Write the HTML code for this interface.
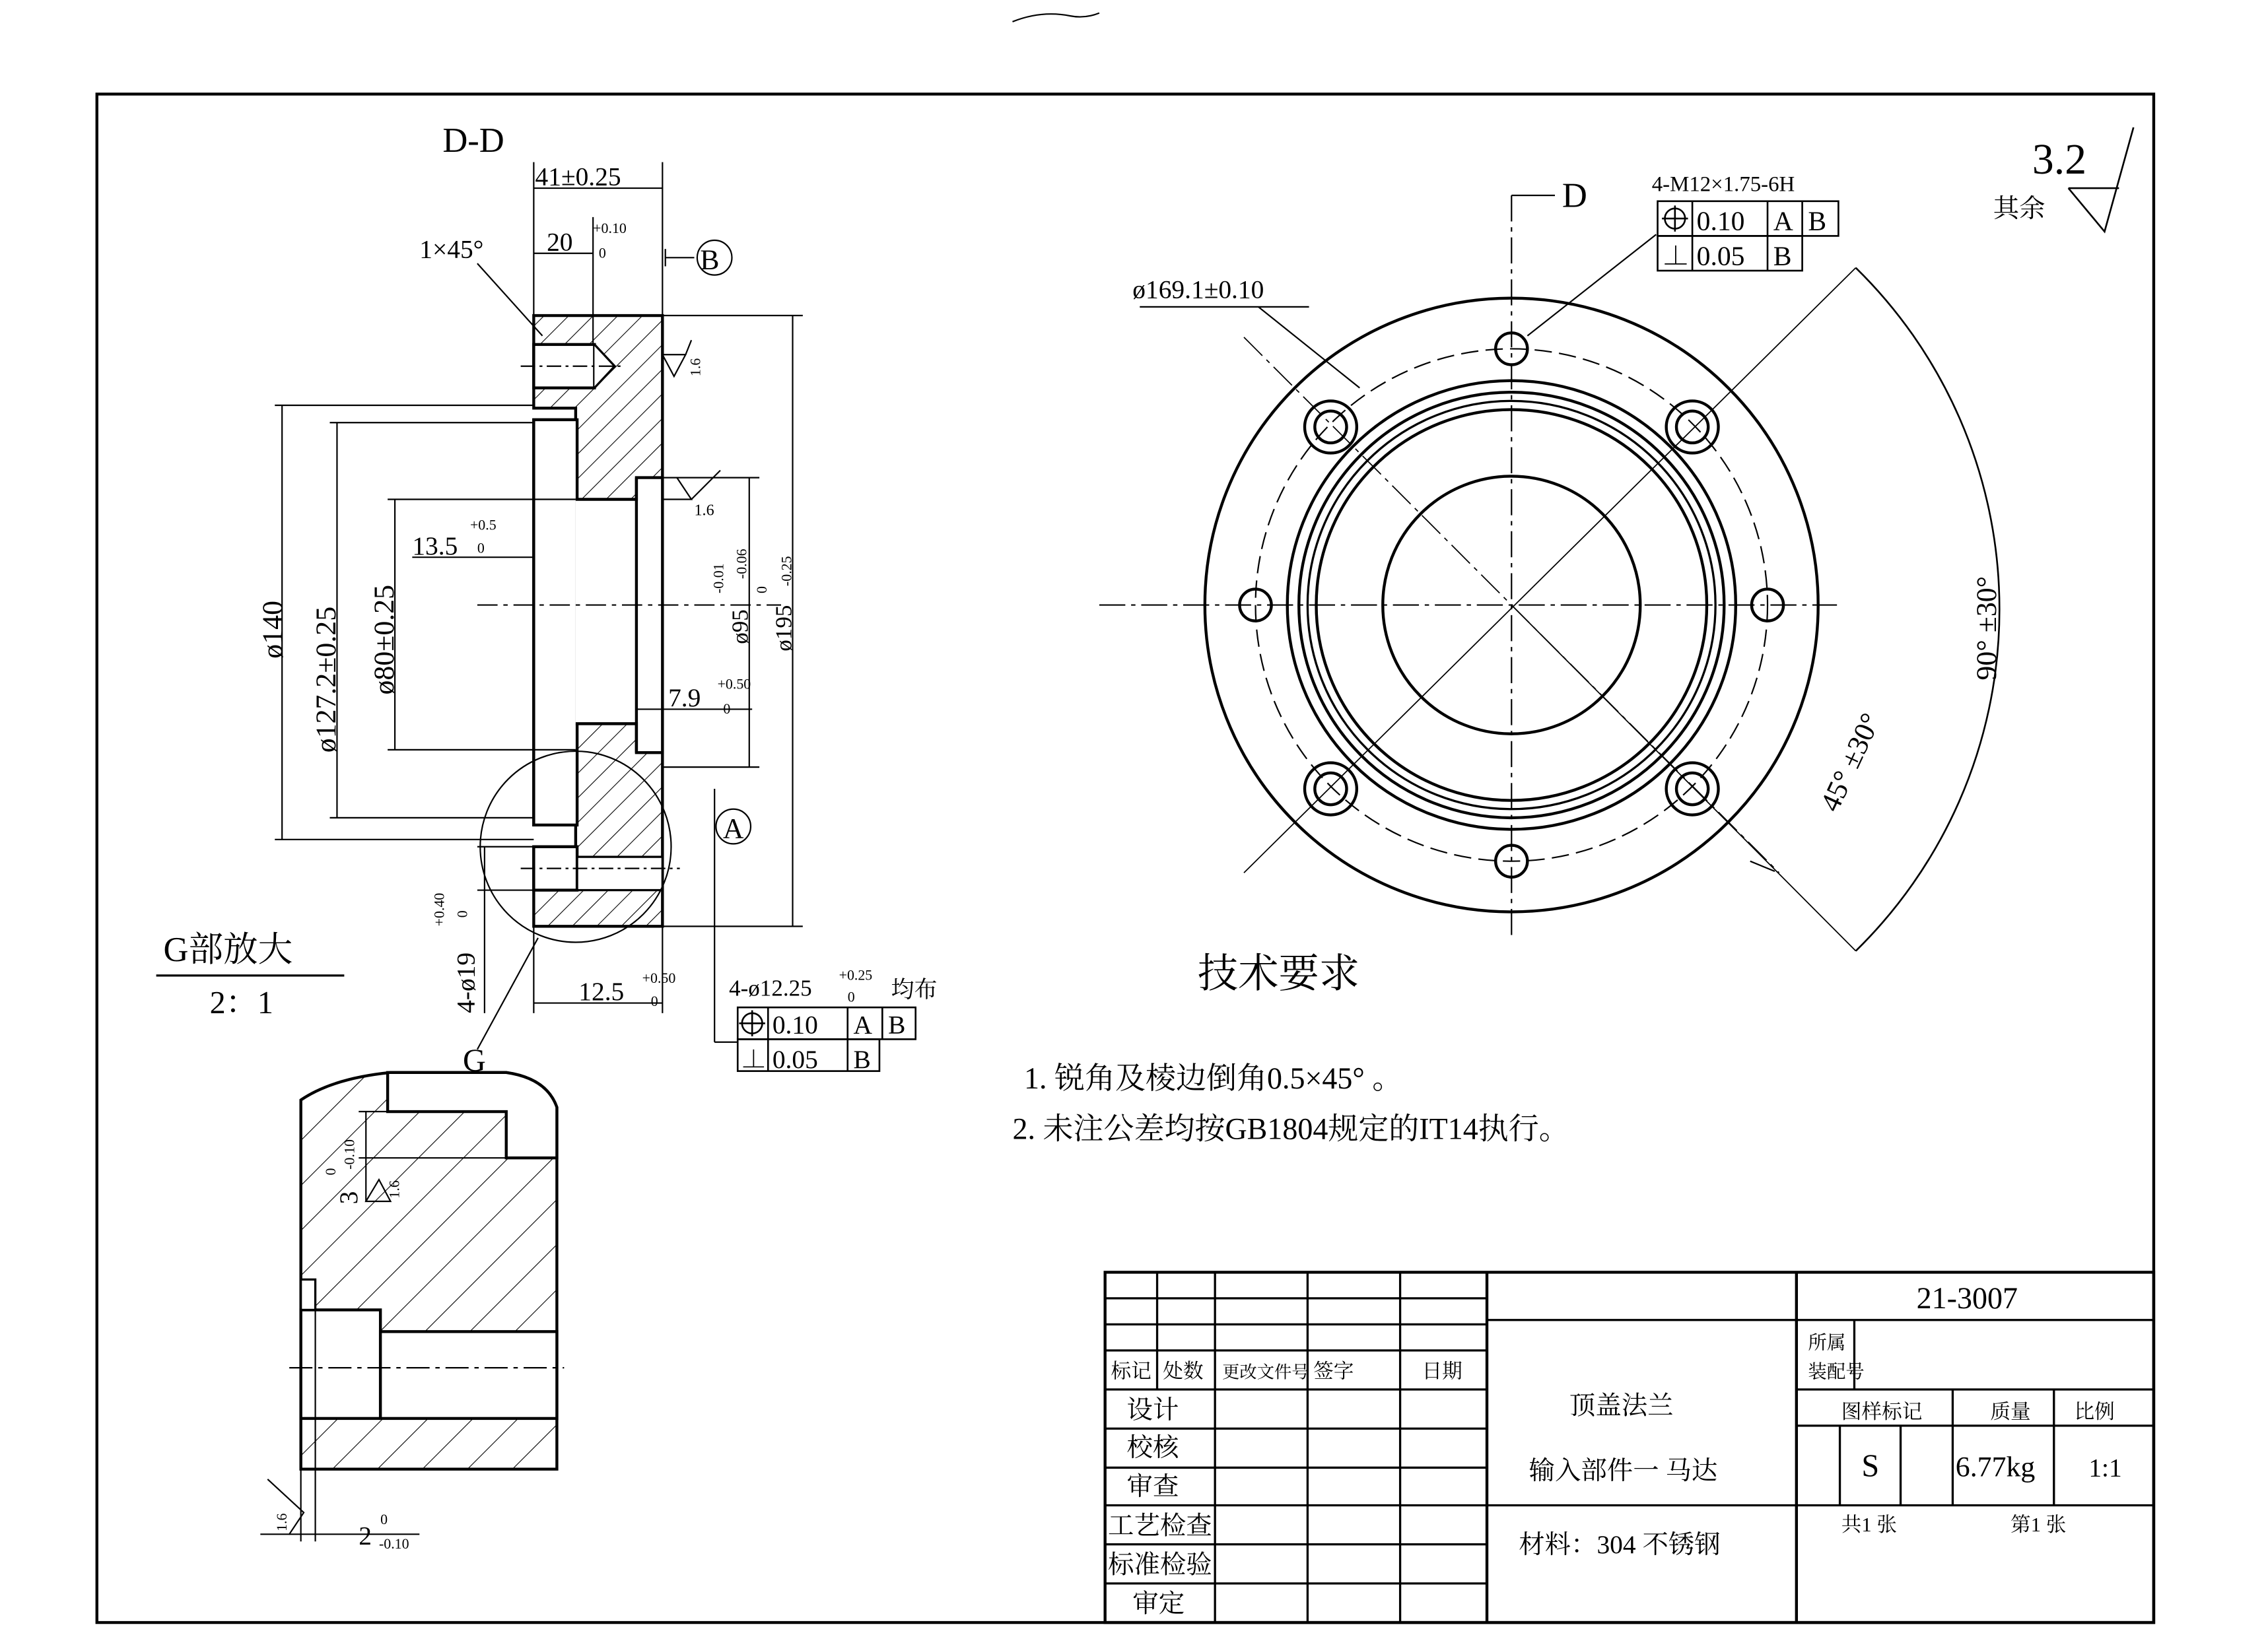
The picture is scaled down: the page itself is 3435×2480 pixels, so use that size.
<!DOCTYPE html>
<html><head><meta charset="utf-8"><style>
html,body{margin:0;padding:0;background:#fff;}
svg{display:block;}
text{font-family:"Liberation Serif","Noto Serif CJK SC","Noto Sans CJK SC",serif;fill:#000;}
</style></head><body>
<svg width="3435" height="2480" viewBox="0 0 1568 1131" preserveAspectRatio="none" xmlns="http://www.w3.org/2000/svg">
<defs>
<pattern id="h" width="12" height="12" patternUnits="userSpaceOnUse" patternTransform="rotate(45)">
<line x1="0" y1="0" x2="0" y2="12" stroke="#000" stroke-width="1"/></pattern>
<pattern id="h2" width="22" height="22" patternUnits="userSpaceOnUse" patternTransform="rotate(45)">
<line x1="0" y1="0" x2="0" y2="22" stroke="#000" stroke-width="1"/></pattern>
</defs>
<rect width="1568" height="1131" fill="#fff"/>
<path d="M700 15 q20 -8 40 -4 q10 2 20 -2" stroke="#000" fill="none" stroke-width="1"/>
<rect x="67" y="65" width="1422" height="1056" fill="none" stroke="#000" stroke-width="2"/>

<!-- D-D section -->
<text x="306" y="105" font-size="24">D-D</text>
<g stroke="#000" fill="none" stroke-width="1">
<line x1="369" y1="112" x2="369" y2="218"/><line x1="458" y1="112" x2="458" y2="218"/>
<line x1="369" y1="130" x2="458" y2="130"/>
<line x1="369" y1="175" x2="410" y2="175"/><line x1="410" y1="150" x2="410" y2="240"/>
<line x1="460" y1="178" x2="480" y2="178"/><line x1="460" y1="172" x2="460" y2="184"/>
<circle cx="494" cy="178" r="12"/>
<line x1="330" y1="182" x2="375" y2="232"/>
</g>
<text x="370" y="128" font-size="18">41±0.25</text>
<text x="378" y="173" font-size="18">20</text><text x="410" y="161" font-size="10">+0.10</text><text x="414" y="178" font-size="10">0</text>
<text x="290" y="178" font-size="18">1×45°</text>
<text x="484" y="186" font-size="20">B</text>
<path d="M369 218 H458 V640 H369 V585 H398 V570 H369 V290 H398 V282 H369 Z" fill="url(#h)" stroke="#000" stroke-width="2"/>
<rect x="369" y="290" width="30" height="280" fill="#fff" stroke="#000" stroke-width="2"/>
<rect x="398" y="345" width="40" height="155" fill="#fff" stroke="none"/>
<path d="M398 345 H440 V330 H458 V520 H440 V500 H398" fill="#fff" stroke="#000" stroke-width="2"/>
<line x1="440" y1="330" x2="440" y2="520" stroke="#000" stroke-width="2"/>
<rect x="369" y="238" width="42" height="30" fill="#fff" stroke="#000" stroke-width="2"/>
<path d="M411 238 L425 253 L411 268" fill="#fff" stroke="#000" stroke-width="1.5"/>
<rect x="369" y="585" width="30" height="30" fill="#fff" stroke="#000" stroke-width="2"/>
<rect x="399" y="592" width="59" height="23" fill="#fff" stroke="#000" stroke-width="1.5"/>
<g stroke="#000" stroke-width="1" fill="none">
<line x1="360" y1="253" x2="430" y2="253" stroke-dasharray="10,3,2,3"/>
<line x1="360" y1="600" x2="470" y2="600" stroke-dasharray="10,3,2,3"/>
<line x1="330" y1="418" x2="540" y2="418" stroke-dasharray="14,4,3,4"/>
<circle cx="398" cy="585" r="66"/>
<line x1="190" y1="280" x2="369" y2="280"/><line x1="190" y1="580" x2="369" y2="580"/><line x1="195" y1="280" x2="195" y2="580"/>
<line x1="228" y1="292" x2="369" y2="292"/><line x1="228" y1="565" x2="369" y2="565"/><line x1="233" y1="292" x2="233" y2="565"/>
<line x1="268" y1="345" x2="398" y2="345"/><line x1="268" y1="518" x2="398" y2="518"/><line x1="273" y1="345" x2="273" y2="518"/>
<line x1="285" y1="385" x2="369" y2="385"/>
<line x1="458" y1="218" x2="555" y2="218"/><line x1="458" y1="640" x2="555" y2="640"/><line x1="548" y1="218" x2="548" y2="640"/>
<line x1="458" y1="330" x2="525" y2="330"/><line x1="458" y1="530" x2="525" y2="530"/><line x1="518" y1="330" x2="518" y2="530"/>
<line x1="440" y1="490" x2="520" y2="490"/>
<line x1="369" y1="640" x2="369" y2="700"/><line x1="458" y1="640" x2="458" y2="700"/><line x1="369" y1="693" x2="458" y2="693"/>
<line x1="330" y1="585" x2="369" y2="585"/><line x1="330" y1="615" x2="369" y2="615"/><line x1="335" y1="585" x2="335" y2="700"/>
<line x1="330" y1="725" x2="372" y2="648"/>
<line x1="494" y1="545" x2="494" y2="720"/><line x1="494" y1="720" x2="510" y2="720"/>
<circle cx="507" cy="571" r="12"/>
<path d="M458 245 L474 245 L466 260 Z"/><line x1="474" y1="245" x2="478" y2="235"/>
<path d="M458 345 L478 345 L468 330"/><line x1="478" y1="345" x2="498" y2="325"/>
</g>
<text x="507" y="579" font-size="20" text-anchor="middle">A</text>
<text x="478" y="262" font-size="10" transform="rotate(-90 480 258)">1.6</text>
<text x="480" y="356" font-size="11">1.6</text>
<text font-size="20" transform="translate(195 455) rotate(-90)">ø140</text>
<text font-size="20" transform="translate(232 520) rotate(-90)">ø127.2±0.25</text>
<text font-size="20" transform="translate(272 480) rotate(-90)">ø80±0.25</text>
<text x="285" y="383" font-size="18">13.5</text><text x="325" y="366" font-size="10">+0.5</text><text x="330" y="382" font-size="10">0</text>
<text x="462" y="488" font-size="18">7.9</text><text x="496" y="476" font-size="10">+0.50</text><text x="500" y="493" font-size="10">0</text>
<text font-size="16" transform="translate(517 445) rotate(-90)">ø95</text>
<text font-size="10" transform="translate(500 410) rotate(-90)">-0.01</text>
<text font-size="10" transform="translate(516 400) rotate(-90)">-0.06</text>
<text font-size="10" transform="translate(530 410) rotate(-90)">0</text>
<text font-size="16" transform="translate(547 450) rotate(-90)">ø195</text>
<text font-size="10" transform="translate(547 405) rotate(-90)">-0.25</text>
<text x="400" y="691" font-size="18">12.5</text><text x="444" y="679" font-size="10">+0.50</text><text x="450" y="695" font-size="10">0</text>
<text font-size="18" transform="translate(328 700) rotate(-90)">4-ø19</text>
<text font-size="10" transform="translate(307 640) rotate(-90)">+0.40</text>
<text font-size="10" transform="translate(323 634) rotate(-90)">0</text>
<text x="320" y="740" font-size="22">G</text>
<text x="504" y="688" font-size="16">4-ø12.25</text><text x="580" y="677" font-size="10">+0.25</text><text x="586" y="692" font-size="10">0</text><text x="616" y="689" font-size="16">均布</text>
<g stroke="#000" stroke-width="1.2" fill="none">
<rect x="510" y="696" width="123" height="22"/><line x1="531" y1="696" x2="531" y2="740"/><line x1="586" y1="696" x2="586" y2="740"/><line x1="610" y1="696" x2="610" y2="718"/>
<rect x="510" y="718" width="98" height="22"/>
<circle cx="520" cy="707" r="7"/><line x1="511" y1="707" x2="529" y2="707"/><line x1="520" y1="698" x2="520" y2="716"/>
</g>
<text x="534" y="714" font-size="18">0.10</text><text x="590" y="714" font-size="18">A</text><text x="614" y="714" font-size="18">B</text>
<text x="512" y="738" font-size="18">⊥</text><text x="534" y="738" font-size="18">0.05</text><text x="590" y="738" font-size="18">B</text>

<!-- G detail -->
<text x="113" y="664" font-size="24">G部放大</text>
<line x1="108" y1="674" x2="238" y2="674" stroke="#000" stroke-width="1.5"/>
<text x="145" y="700" font-size="22">2：1</text>
<path d="M208 760 Q230 745 270 741 H350 Q378 745 385 765 V1015 H208 Z" fill="url(#h2)" stroke="#000" stroke-width="2"/>
<path d="M268 741 V768 H350 V800 H385 V765 Q378 745 350 741 Z" fill="#fff" stroke="#000" stroke-width="2"/>
<rect x="208" y="905" width="55" height="75" fill="#fff" stroke="#000" stroke-width="2"/>
<rect x="263" y="920" width="122" height="60" fill="#fff" stroke="#000" stroke-width="2"/>
<rect x="208" y="884" width="10" height="21" fill="#fff" stroke="#000" stroke-width="1.5"/>
<g stroke="#000" stroke-width="1" fill="none">
<line x1="200" y1="945" x2="390" y2="945" stroke-dasharray="16,4,3,4"/>
<line x1="248" y1="768" x2="268" y2="768"/><line x1="248" y1="800" x2="350" y2="800"/><line x1="253" y1="768" x2="253" y2="830"/>
<path d="M253 830 L270 830 L262 815 Z"/>
<line x1="208" y1="1015" x2="208" y2="1065"/><line x1="218" y1="905" x2="218" y2="1065"/><line x1="200" y1="1060" x2="290" y2="1060"/>
<path d="M185 1022 L210 1045 L200 1060 L180 1060"/>
</g>
<text font-size="18" transform="translate(247 832) rotate(-90)">3</text>
<text font-size="10" transform="translate(232 812) rotate(-90)">0</text>
<text font-size="10" transform="translate(245 808) rotate(-90)">-0.10</text>
<text font-size="10" transform="translate(276 828) rotate(-90)">1.6</text>
<text font-size="10" transform="translate(198 1058) rotate(-90)">1.6</text>
<text x="248" y="1067" font-size="18">2</text><text x="263" y="1053" font-size="10">0</text><text x="262" y="1070" font-size="10">-0.10</text>

<!-- front view -->
<g stroke="#000" fill="none">
<circle cx="1045" cy="418" r="212" stroke-width="2"/>
<circle cx="1045" cy="418" r="177" stroke-width="1" stroke-dasharray="12,5"/>
<circle cx="1045" cy="418" r="155" stroke-width="2"/>
<circle cx="1045" cy="418" r="147" stroke-width="2"/>
<circle cx="1045" cy="418" r="141" stroke-width="1.5"/>
<circle cx="1045" cy="418" r="135" stroke-width="2"/>
<circle cx="1045" cy="418" r="89" stroke-width="2"/>
<line x1="760" y1="418" x2="1270" y2="418" stroke-width="1" stroke-dasharray="18,4,3,4"/>
<line x1="1045" y1="135" x2="1045" y2="650" stroke-width="1" stroke-dasharray="18,4,3,4"/>
<line x1="860" y1="233" x2="1230" y2="603" stroke-width="0.8" stroke-dasharray="18,4,3,4"/>
<line x1="860" y1="603" x2="1283" y2="185" stroke-width="0.8"/>
<line x1="1045" y1="418" x2="1283" y2="657" stroke-width="0.8"/>
<circle cx="1045" cy="241" r="11" stroke-width="2"/><circle cx="1045" cy="595" r="11" stroke-width="2"/>
<circle cx="868" cy="418" r="11" stroke-width="2"/><circle cx="1222" cy="418" r="11" stroke-width="2"/>
<circle cx="920" cy="295" r="18" stroke-width="2"/><circle cx="920" cy="295" r="11" stroke-width="2"/>
<circle cx="1170" cy="295" r="18" stroke-width="2"/><circle cx="1170" cy="295" r="11" stroke-width="2"/>
<circle cx="920" cy="545" r="18" stroke-width="2"/><circle cx="920" cy="545" r="11" stroke-width="2"/>
<circle cx="1170" cy="545" r="18" stroke-width="2"/><circle cx="1170" cy="545" r="11" stroke-width="2"/>
<path d="M1283 185 A330 330 0 0 1 1283 657" stroke-width="1.2"/>
<path d="M1227 602 L1210 595" stroke-width="1"/>
<line x1="1045" y1="135" x2="1075" y2="135" stroke-width="1"/>
<line x1="1056" y1="232" x2="1145" y2="162" stroke-width="1"/>
<line x1="788" y1="212" x2="905" y2="212" stroke-width="1"/>
<line x1="870" y1="212" x2="940" y2="268" stroke-width="1"/>
</g>
<text x="1080" y="143" font-size="24">D</text>
<text x="783" y="206" font-size="18">ø169.1±0.10</text>
<text x="1142" y="132" font-size="15">4-M12×1.75-6H</text>
<g stroke="#000" stroke-width="1.2" fill="none">
<rect x="1146" y="139" width="125" height="24"/><line x1="1170" y1="139" x2="1170" y2="187"/><line x1="1222" y1="139" x2="1222" y2="187"/><line x1="1246" y1="139" x2="1246" y2="163"/>
<rect x="1146" y="163" width="100" height="24"/>
<circle cx="1158" cy="151" r="7"/><line x1="1149" y1="151" x2="1167" y2="151"/><line x1="1158" y1="142" x2="1158" y2="160"/>
</g>
<text x="1173" y="159" font-size="19">0.10</text><text x="1226" y="159" font-size="19">A</text><text x="1250" y="159" font-size="19">B</text>
<text x="1149" y="183" font-size="19">⊥</text><text x="1173" y="183" font-size="19">0.05</text><text x="1226" y="183" font-size="19">B</text>
<text font-size="20" transform="translate(1380 470) rotate(-90)">90° ±30°</text>
<text font-size="20" transform="translate(1270 562) rotate(-65)">45° ±30°</text>
<text x="1405" y="120" font-size="30">3.2</text>
<text x="1378" y="150" font-size="18">其余</text>
<path d="M1430 130 L1455 160 L1475 88 M1430 130 H1465" stroke="#000" fill="none" stroke-width="1.2"/>

<text x="828" y="682" font-size="28">技术要求</text>
<text x="708" y="752" font-size="21">1. 锐角及棱边倒角0.5×45°  。</text>
<text x="700" y="787" font-size="21">2. 未注公差均按GB1804规定的IT14执行。</text>

<!-- title block -->
<g stroke="#000" stroke-width="1.5" fill="none">
<rect x="764" y="879" width="725" height="242" stroke-width="2"/>
<line x1="1028" y1="879" x2="1028" y2="1121" stroke-width="2"/>
<line x1="1242" y1="879" x2="1242" y2="1121" stroke-width="2"/>
<line x1="800" y1="879" x2="800" y2="960"/><line x1="840" y1="879" x2="840" y2="1121"/>
<line x1="904" y1="879" x2="904" y2="1121"/><line x1="968" y1="879" x2="968" y2="1121"/>
<line x1="764" y1="897" x2="1028" y2="897"/><line x1="764" y1="915" x2="1028" y2="915"/>
<line x1="764" y1="933" x2="1028" y2="933"/><line x1="764" y1="960" x2="1028" y2="960"/>
<line x1="764" y1="987" x2="1028" y2="987"/><line x1="764" y1="1014" x2="1028" y2="1014"/>
<line x1="764" y1="1040" x2="1028" y2="1040"/><line x1="764" y1="1067" x2="1028" y2="1067"/>
<line x1="764" y1="1094" x2="1028" y2="1094"/>
<line x1="1028" y1="912" x2="1242" y2="912"/><line x1="1028" y1="1040" x2="1242" y2="1040"/>
<line x1="1242" y1="912" x2="1489" y2="912"/><line x1="1242" y1="960" x2="1489" y2="960"/>
<line x1="1242" y1="985" x2="1489" y2="985"/><line x1="1242" y1="1040" x2="1489" y2="1040"/>
<line x1="1282" y1="912" x2="1282" y2="960"/>
<line x1="1350" y1="960" x2="1350" y2="1040"/><line x1="1420" y1="960" x2="1420" y2="1040"/>
<line x1="1272" y1="985" x2="1272" y2="1040"/><line x1="1314" y1="985" x2="1314" y2="1040"/>
</g>
<g font-size="14">
<text x="768" y="952">标记</text><text x="804" y="952">处数</text><text x="845" y="952" font-size="12">更改文件号</text><text x="908" y="952">签字</text><text x="983" y="952">日期</text>
</g>
<g font-size="18">
<text x="779" y="980">设计</text><text x="779" y="1006">校核</text><text x="779" y="1033">审查</text>
<text x="766" y="1060">工艺检查</text><text x="766" y="1087">标准检验</text><text x="783" y="1114">审定</text>
<text x="1085" y="977">顶盖法兰</text><text x="1057" y="1022">输入部件一 马达</text>
<text x="1050" y="1073">材料：304 不锈钢</text>
<text x="1325" y="904" font-family="Liberation Sans,sans-serif" font-size="21" fill="#333">21-3007</text>
<text x="1250" y="932" font-size="13">所属</text><text x="1250" y="952" font-size="13">装配号</text>
<text x="1273" y="980" font-size="14">图样标记</text><text x="1376" y="980" font-size="14">质量</text><text x="1434" y="980" font-size="14">比例</text>
<text x="1287" y="1020" font-size="22">S</text><text x="1352" y="1020" font-size="20">6.77kg</text><text x="1444" y="1020" font-size="18">1:1</text>
<text x="1273" y="1058" font-size="14">共1 张</text><text x="1390" y="1058" font-size="14">第1 张</text>
</g>
</svg>
</body></html>
